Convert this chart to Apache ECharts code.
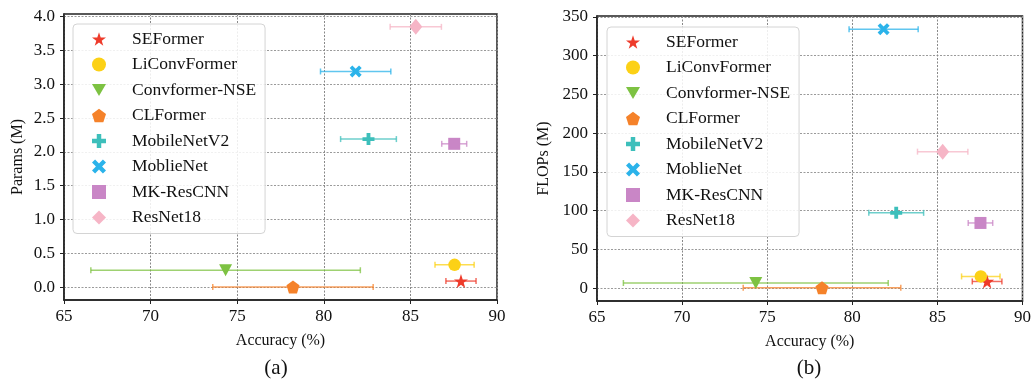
<!DOCTYPE html>
<html>
<head>
<meta charset="utf-8">
<script src="https://cdn.jsdelivr.net/npm/echarts@6/dist/echarts.min.js"></script>
<style>
  html, body { margin: 0; padding: 0; background: #fff; }
  #chart { width: 1034px; height: 380px; }
</style>
</head>
<body>
<div id="chart"></div>
<script>
// models and their colours
const models = ['SEFormer', 'LiConvFormer', 'Convformer-NSE', 'CLFormer', 'MobileNetV2', 'MoblieNet', 'MK-ResCNN', 'ResNet18']
const colors = ['#ee3b2b', '#fcd116', '#7dc242', '#f5822a', '#3dbfbb', '#2bb3ea', '#c986c6', '#f6b5c6']
// accuracy mean and std (%)
const accuracy = [87.92, 87.55, 74.33, 78.22, 82.58, 81.84, 87.53, 85.31]
const accStd = [0.87, 1.13, 7.78, 4.63, 1.61, 2.03, 0.72, 1.48]
// params (M) and FLOPs (M)
const params = [0.09, 0.33, 0.25, 0.004, 2.19, 3.19, 2.12, 3.85]
const flops = [8.5, 15, 6.5, 0.3, 97, 334, 84, 176]
// tick labels
const accTicks = [65, 70, 75, 80, 85, 90]
const paramTicks = [0, 0.5, 1.0, 1.5, 2.0, 2.5, 3.0, 3.5, 4.0]
const flopTicks = [0, 50, 100, 150, 200, 250, 300, 350]

const symbols = [
  'path://M50,0 L61.8,35.3 L98.1,35.3 L68.7,57.1 L79.4,91.8 L50,70.6 L20.6,91.8 L31.3,57.1 L1.9,35.3 L38.2,35.3 Z',
  'circle',
  'path://M0,0 L100,0 L50,86 Z',
  'path://M50,0 L97.6,34.5 L79.4,90.5 L20.6,90.5 L2.4,34.5 Z',
  'path://M34,0 H66 V34 H100 V66 H66 V100 H34 V66 H0 V34 H34 Z',
  'path://M22,0 L50,28 L78,0 L100,22 L72,50 L100,78 L78,100 L50,72 L22,100 L0,78 L28,50 L0,22 Z',
  'rect',
  'diamond'
]
const sizes = [14, 12.5, [13, 12], 13, 12, 12, 12, [13, 16]]

const font = 'Liberation Serif'

function renderErr(p, api) {
  const y = api.value(1)
  const a = api.coord([api.value(2), y])
  const b = api.coord([api.value(3), y])
  const st = { stroke: colors[api.value(4)], lineWidth: 1.5, opacity: 0.75 }
  const h = 3
  return {
    type: 'group',
    children: [
      { type: 'line', shape: { x1: a[0], y1: a[1], x2: b[0], y2: b[1] }, style: st },
      { type: 'line', shape: { x1: a[0], y1: a[1] - h, x2: a[0], y2: a[1] + h }, style: st },
      { type: 'line', shape: { x1: b[0], y1: b[1] - h, x2: b[0], y2: b[1] + h }, style: st }
    ]
  }
}

function makeSeries(idx, yvals) {
  const out = [{
    name: 'err' + idx,
    type: 'custom',
    xAxisIndex: idx,
    yAxisIndex: idx,
    renderItem: renderErr,
    encode: { x: [0, 2, 3], y: 1 },
    data: models.map((m, i) => [accuracy[i], yvals[i], accuracy[i] - accStd[i], accuracy[i] + accStd[i], i]),
    z: 2,
    silent: true
  }]
  models.forEach((m, i) => {
    out.push({
      name: m,
      type: 'scatter',
      xAxisIndex: idx,
      yAxisIndex: idx,
      symbol: symbols[i],
      symbolSize: sizes[i],
      itemStyle: { color: colors[i], opacity: 1 },
      data: [[accuracy[i], yvals[i]]],
      z: 3
    })
  })
  return out
}

function xAxis(idx) {
  return {
    type: 'value',
    gridIndex: idx,
    min: 65,
    max: 90,
    interval: 5,
    name: 'Accuracy (%)',
    nameLocation: 'middle',
    nameGap: 33,
    nameTextStyle: { fontFamily: font, fontSize: 16, color: '#111' },
    axisLine: { show: true, onZero: false, lineStyle: { color: '#222', width: 1.5 } },
    axisTick: { show: true, length: 4, lineStyle: { color: '#222' }, customValues: accTicks },
    axisLabel: { fontFamily: font, fontSize: 17, color: '#111', margin: 8, customValues: accTicks },
    splitLine: { show: true, lineStyle: { color: '#888', type: [2, 1.5], width: 1 } }
  }
}

function yAxis(idx, name, min, max, ticks, fmt, gap) {
  return {
    type: 'value',
    gridIndex: idx,
    min: min,
    max: max,
    name: name,
    nameLocation: 'middle',
    nameRotate: 90,
    nameGap: gap,
    nameTextStyle: { fontFamily: font, fontSize: 16, color: '#111' },
    axisLine: { show: true, onZero: false, lineStyle: { color: '#222', width: 1.5 } },
    axisTick: { show: true, length: 4, lineStyle: { color: '#222' }, customValues: ticks },
    axisLabel: { fontFamily: font, fontSize: 17, color: '#111', margin: 9, customValues: ticks, formatter: fmt },
    splitLine: { show: true, lineStyle: { color: '#9a9a9a', type: [2, 1.5], width: 1 } }
  }
}

function legend(left, top) {
  return {
    orient: 'vertical',
    left: left,
    top: top,
    data: models,
    itemWidth: 14,
    itemHeight: 14,
    itemGap: 7.5,
    padding: [6, 9, 7, 19],
    backgroundColor: 'rgba(255,255,255,0.85)',
    borderColor: '#d4d4d4',
    borderWidth: 1,
    borderRadius: 4,
    selectedMode: false,
    textStyle: { fontFamily: font, fontSize: 17.5, color: '#111', lineHeight: 16, padding: [0, 0, 0, 21] }
  }
}

const chart = echarts.init(document.getElementById('chart'))
chart.setOption({
  animation: false,
  backgroundColor: '#fff',
  title: [
    { text: '(a)', left: 271, top: 353, textAlign: 'center', textStyle: { fontFamily: font, fontSize: 21, fontWeight: 'normal', color: '#111' } },
    { text: '(b)', left: 804, top: 353, textAlign: 'center', textStyle: { fontFamily: font, fontSize: 21, fontWeight: 'normal', color: '#111' } }
  ],
  grid: [
    { left: 64, right: 537, top: 14, bottom: 80, show: true, borderColor: '#222', borderWidth: 1.5 },
    { left: 597, right: 8, top: 16, bottom: 79, show: true, borderColor: '#222', borderWidth: 1.5 }
  ],
  legend: [legend(73, 24), legend(607, 27)],
  xAxis: [xAxis(0), xAxis(1)],
  yAxis: [
    yAxis(0, 'Params (M)', -0.19, 4.04, paramTicks, v => v.toFixed(1), 38),
    yAxis(1, 'FLOPs (M)', -16.7, 351, flopTicks, v => String(v), 45)
  ],
  series: makeSeries(0, params).concat(makeSeries(1, flops))
})
</script>
</body>
</html>
